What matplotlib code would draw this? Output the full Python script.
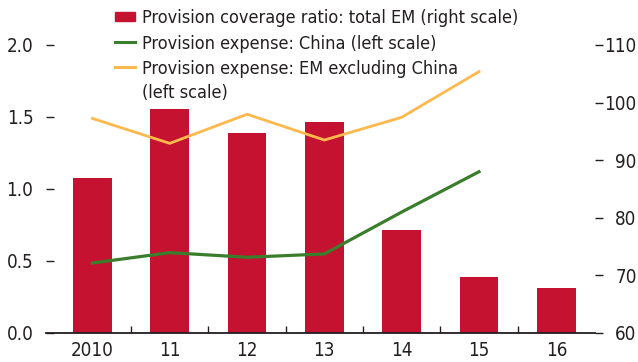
import numpy as np
import matplotlib
matplotlib.use('Agg')
import matplotlib.pyplot as plt
from matplotlib.patches import Rectangle
from matplotlib.lines import Line2D

plt.rcParams.update({'font.family': ['DejaVu Sans'], 'font.stretch': 'condensed',
                     'font.size': 13.5, 'text.color': '#231f20',
                     'xtick.color': '#231f20', 'ytick.color': '#231f20'})

years = ['2010', '11', '12', '13', '14', '15', '16']
coverage_em = [86.9, 98.9, 94.7, 96.6, 77.8, 69.7, 67.8]          # right scale
expense_china = [0.486, 0.558, 0.526, 0.549, 0.84, 1.12]           # left scale
expense_em_ex_china = [1.49, 1.317, 1.519, 1.34, 1.498, 1.815]     # left scale

RED, GREEN, ORANGE = '#c41230', '#3a7d2c', '#fdb94d'

fig = plt.figure(figsize=(6.38, 3.62), dpi=100)
ax = fig.add_axes([46/638, 1 - 333/362, (595 - 46)/638, (333 - 45)/362])
ax2 = ax.twinx()
# bars on the right scale go behind the lines
ax.set_zorder(2); ax.patch.set_visible(False)

x = np.arange(len(years))
ax2.bar(x, coverage_em, width=0.5, color=RED)
ax2.set_ylim(60, 110)

xl = np.arange(len(expense_china))
ax.plot(xl, expense_china, color=GREEN, lw=2.3, solid_joinstyle='round')
ax.plot(xl, expense_em_ex_china, color=ORANGE, lw=2.0, solid_joinstyle='round')
ax.set_ylim(0, 2.0)
ax.set_xlim(-0.6, 6.5)

ax.set_yticks([0, 0.5, 1.0, 1.5, 2.0])
ax.set_yticklabels(['0.0', '0.5', '1.0', '1.5', '2.0'])
ax2.set_yticks([60, 70, 80, 90, 100, 110])

ax.set_xticks(x)
ax.set_xticklabels(years)
ax.set_xticks(np.arange(0.5, 6.0, 1.0), minor=True)

for s in ['top', 'left', 'right']:
    ax.spines[s].set_visible(False)
    ax2.spines[s].set_visible(False)
ax2.spines['bottom'].set_visible(False)
ax.spines['bottom'].set_linewidth(1.3)
ax.spines['bottom'].set_color('#231f20')

ax.tick_params(axis='x', which='major', length=0, pad=6)
ax.tick_params(axis='x', which='minor', direction='in', length=5, width=1)
ax.tick_params(axis='y', direction='in', length=6, width=1, pad=9)
ax2.tick_params(axis='y', direction='out', length=6, width=1, pad=24)
for t in ax2.get_yticklabels():
    t.set_horizontalalignment('right')

# legend, one row per series; the two-line entry keeps its key on the first line
H = 362.0
fig.patches.append(Rectangle((115/638, 1 - 20.5/H), 20/638, 9/H,
                             color=RED, transform=fig.transFigure))
for col, yc in [(GREEN, 41.7), (ORANGE, 66.7)]:
    fig.lines.append(Line2D([115/638, 135/638], [1 - yc/H, 1 - yc/H], color=col,
                            lw=2.2, transform=fig.transFigure))
legend_text = [('Provision coverage ratio: total EM (right scale)', 23.3),
               ('Provision expense: China (left scale)', 49.2),
               ('Provision expense: EM excluding China', 74.5),
               ('(left scale)', 97.8)]
for text, yb in legend_text:
    fig.text(142/638, 1 - yb/H, text, ha='left', va='baseline', fontsize=13)

fig.savefig('out.png', dpi=100)
